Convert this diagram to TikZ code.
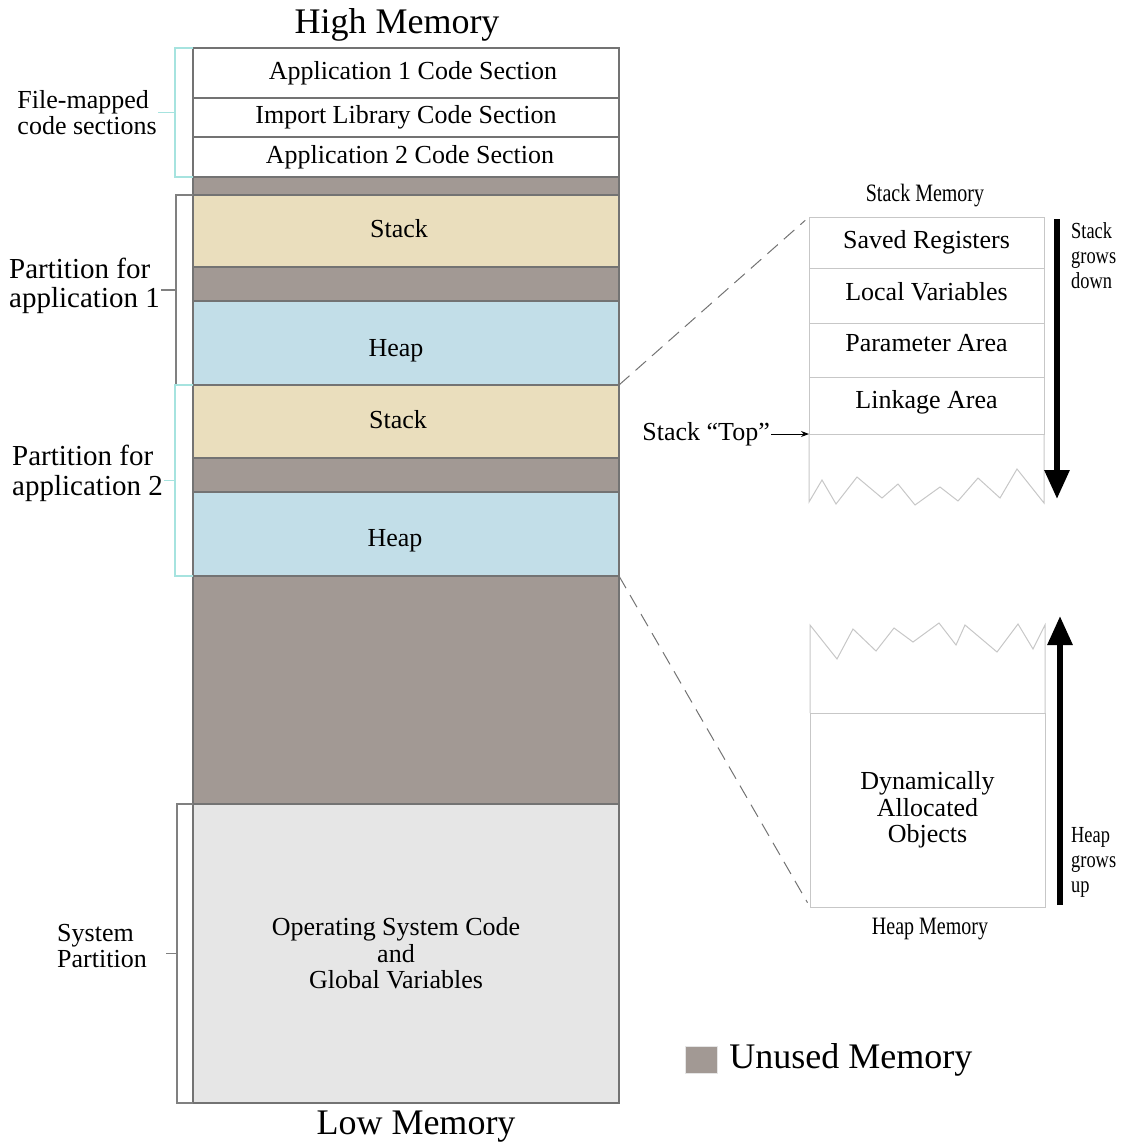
\documentclass[tikz,border=0pt]{standalone}
\usepackage{fontspec}
\setmainfont{Liberation Serif}
\newfontfamily\narrowfont[FakeStretch=0.8]{Liberation Serif}
\usepackage{tikz}
\usetikzlibrary{positioning,arrows.meta,calc}

\definecolor{unused}{HTML}{A29994}
\definecolor{stackcol}{HTML}{EADEBD}
\definecolor{heapcol}{HTML}{C2DEE8}
\definecolor{syscol}{HTML}{E6E6E6}
\definecolor{bracecyan}{HTML}{A6E3DF}

\begin{document}
\begin{tikzpicture}[x=1pt,y=-1pt,
        block/.style = {rectangle,
            draw=black!55, line width=1.2pt, fill=white,
            minimum width=426pt, minimum height=#1,
            inner sep=0pt, outer sep=0pt,
            font=\fontsize{26}{26.5}\selectfont},
        row/.style = {rectangle,
            draw=black!22, line width=1pt,
            minimum width=235pt, minimum height=#1,
            inner sep=0pt, outer sep=0pt,
            font=\fontsize{26}{26.5}\selectfont},
        txt/.style = {inner sep=1pt, align=left,
            font=\fontsize{26}{26}\selectfont},
        bigtxt/.style = {inner sep=1pt,
            font=\fontsize{36}{36}\selectfont},
        narrow/.style = {inner sep=1pt, align=left,
            font=\narrowfont\fontsize{25}{25}\selectfont},
        grows/.style = {inner sep=1pt, align=left,
            font=\narrowfont\fontsize{23}{25}\selectfont},
        brace/.style = {line width=1.2pt},
        memline/.style = {draw=black!22, line width=1pt},
        zoomline/.style = {draw=black!55, line width=1pt,
            dash pattern=on 14pt off 8pt},
        growarrow/.style = {line width=6pt,
            -{Triangle[width=24pt,length=29pt]}}]

        \useasboundingbox (0,0) rectangle (1123,1146);

        % Memory column
        \node[block=50pt, anchor=north west] (app1) at (193,48) {\hspace*{14pt}Application 1 Code Section};
        \node[block=39pt, below=0pt of app1] (implib) {Import Library Code Section};
        \node[block=40pt, below=0pt of implib] (app2) {\hspace*{8pt}Application 2 Code Section};
        \node[block=18pt, fill=unused, below=0pt of app2] (gap1) {};
        \node[block=72pt, fill=stackcol, text depth=6pt, below=0pt of gap1] (stack1) {\hspace*{-14pt}Stack};
        \node[block=34pt, fill=unused, below=0pt of stack1] (gap2) {};
        \node[block=84pt, fill=heapcol, text height=33pt, below=0pt of gap2] (heap1) {\hspace*{-20pt}Heap};
        \node[block=73pt, fill=stackcol, text depth=5pt, below=0pt of heap1] (stack2) {\hspace*{-16pt}Stack};
        \node[block=34pt, fill=unused, below=0pt of stack2] (gap3) {};
        \node[block=84pt, fill=heapcol, text height=31pt, below=0pt of gap3] (heap2) {\hspace*{-22pt}Heap};
        \node[block=228pt, fill=unused, below=0pt of heap2] (gap4) {};
        \node[block=299pt, fill=syscol, align=center, below=0pt of gap4] (os)
            {\hspace*{-20pt}Operating System Code\\\hspace*{-20pt}and\\\hspace*{-20pt}Global Variables};

        % High and low ends
        \node[bigtxt] (high) at (397,25) {High Memory};
        \node[bigtxt] (low) at (416,1127) {Low Memory};

        % Brackets on the left
        \draw[brace, draw=bracecyan] (app1.north west) -- ++(-18,0) |- (app2.south west);
        \draw[brace, draw=bracecyan] ($(app1.north west)!.5!(app2.south west)+(-18,0)$)
            -- ++(-17,0) coordinate (fmtick);
        \node[txt, anchor=east] (fmlabel) at (fmtick) {File-mapped\\code sections};

        \draw[brace, draw=black!50] (stack1.north west) -- ++(-17,0) |- (heap1.south west);
        \draw[brace, draw=black!50] ($(stack1.north west)!.5!(heap1.south west)+(-17,0)$)
            -- ++(-15,0) coordinate (p1tick);
        \node[txt, anchor=east, yshift=4pt,
            font=\fontsize{29}{29.5}\selectfont] (p1label) at (p1tick) {Partition for\\application 1};

        \draw[brace, draw=bracecyan] (stack2.north west) -- ++(-18,0) |- (heap2.south west);
        \draw[brace, draw=bracecyan] ($(stack2.north west)!.5!(heap2.south west)+(-18,0)$)
            -- ++(-11,0) coordinate (p2tick);
        \node[txt, anchor=east, yshift=7pt,
            font=\fontsize{29}{29.5}\selectfont] (p2label) at (p2tick) {Partition for\\application 2};

        \draw[brace, draw=black!50] (os.north west) -- ++(-16,0) |- (os.south west);
        \draw[brace, draw=black!50] ($(os.north west)!.5!(os.south west)+(-16,0)$)
            -- ++(-11,0) coordinate (systick);
        \node[txt, anchor=east, xshift=-18pt, yshift=7pt] (syslabel) at (systick) {System\\Partition};

        % Stack memory detail
        \node[narrow] (stacktitle) at (925,196) {Stack Memory};
        \node[row=51pt, anchor=north west] (saved) at (809,217) {Saved Registers};
        \node[row=55pt, text depth=8pt, below=0pt of saved] (locals) {Local Variables};
        \node[row=54pt, text depth=14pt, below=0pt of locals] (params) {Parameter Area};
        \node[row=57pt, text depth=12pt, below=0pt of params] (linkage) {Linkage Area};
        \draw[memline] (linkage.south west) -- (809,502) -- (822,480) -- (836,504)
            -- (857,477) -- (882,498) -- (898,484) -- (915,505) -- (940,487)
            -- (958,501) -- (978,478) -- (1000,498) -- (1017,469) -- (1044,503)
            -- (linkage.south east);

        \node[txt, anchor=east] (toplabel) at (771,434) {Stack “Top”};
        \draw[line width=1pt, -{Stealth[length=8pt,width=6pt]}] (toplabel.east) -- (linkage.south west);

        \coordinate (sdfrom) at (1057,219);
        \coordinate (sdto) at (1057,499);
        \draw[growarrow] (sdfrom) -- (sdto);
        \node[grows, anchor=west] (sdlabel) at (1070,256) {Stack\\grows\\down};

        % Heap memory detail
        \node[row=194pt, anchor=north west, align=center] (dynobj) at (810,713)
            {Dynamically\\Allocated\\Objects};
        \draw[memline] (dynobj.north west) -- (810,625) -- (837,659) -- (853,629)
            -- (876,651) -- (894,628) -- (913,642) -- (939,623) -- (956,645)
            -- (965,625) -- (997,652) -- (1018,624) -- (1033,649) -- (1045,625)
            -- (dynobj.north east);
        \node[narrow] (heaptitle) at (930,929) {Heap Memory};

        \coordinate (hufrom) at (1060,905);
        \coordinate (huto) at (1060,616);
        \draw[growarrow] (hufrom) -- (huto);
        \node[grows, anchor=west] (hulabel) at (1070,862) {Heap\\grows\\up};

        % Zoom lines
        \draw[zoomline, shorten >=5pt] (heap1.south east) -- (saved.north west);
        \draw[zoomline, shorten >=5pt] (heap2.south east) -- (dynobj.south west);

        % Legend
        \node[fill=unused, draw=black!10, minimum width=32pt, minimum height=27pt,
            inner sep=0pt] (legkey) at (701,1060) {};
        \node[bigtxt, right=11pt of legkey] (legtext) {Unused Memory};
    \end{tikzpicture}
\end{document}
